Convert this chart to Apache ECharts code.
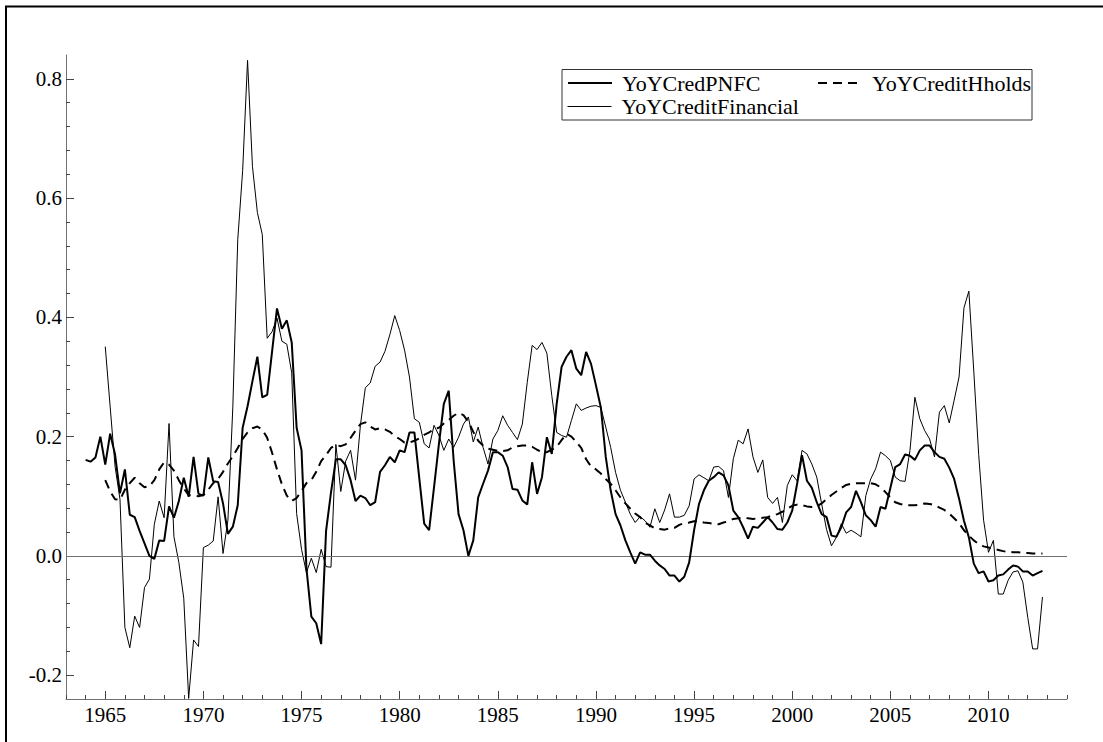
<!DOCTYPE html>
<html>
<head>
<meta charset="utf-8">
<script src="https://cdn.jsdelivr.net/npm/echarts@6/dist/echarts.min.js"></script>
<style>
  html, body { margin: 0; padding: 0; background: #fff; overflow: hidden; }
  #main { width: 1103px; height: 742px; }
</style>
</head>
<body>
<div id="main"></div>
<script>
// quarterly series, PNFC starts 1964Q1, the other two 1965Q1
var pnfcStart = 1964;
var otherStart = 1965;

var pnfc = [
  0.161, 0.158, 0.165, 0.200,  0.153, 0.205, 0.170, 0.105,  // 1964-65
  0.145, 0.069, 0.065, 0.042,  0.021, 0.000, -0.005, 0.026, // 1966-67
  0.025, 0.083, 0.064, 0.092,  0.131, 0.099, 0.166, 0.104,  // 1968-69
  0.101, 0.165, 0.125, 0.124,  0.088, 0.037, 0.049, 0.085,  // 1970-71
  0.215, 0.251, 0.293, 0.334,  0.266, 0.270, 0.343, 0.415,  // 1972-73
  0.381, 0.395, 0.358, 0.215,  0.177, -0.021, -0.102, -0.113, // 1974-75
  -0.148, 0.042, 0.106, 0.162, 0.162, 0.152, 0.127, 0.092,  // 1976-77
  0.101, 0.097, 0.085, 0.090,  0.141, 0.152, 0.166, 0.157,  // 1978-79
  0.177, 0.174, 0.207, 0.207,  0.130, 0.054, 0.043, 0.115,  // 1980-81
  0.188, 0.255, 0.277, 0.160,  0.070, 0.043, 0.000, 0.026,  // 1982-83
  0.098, 0.121, 0.143, 0.174,  0.174, 0.168, 0.149, 0.112,  // 1984-85
  0.111, 0.093, 0.086, 0.157,  0.104, 0.132, 0.199, 0.171,  // 1986-87
  0.255, 0.317, 0.334, 0.345,  0.314, 0.303, 0.342, 0.322,  // 1988-89
  0.286, 0.249, 0.166, 0.110,  0.070, 0.051, 0.026, 0.006,  // 1990-91
  -0.013, 0.006, 0.002, 0.002, -0.008, -0.016, -0.022, -0.033, // 1992-93
  -0.033, -0.043, -0.035, -0.011, 0.043, 0.087, 0.110, 0.126, // 1994-95
  0.132, 0.140, 0.135, 0.118,  0.076, 0.065, 0.048, 0.029,  // 1996-97
  0.049, 0.047, 0.056, 0.065,  0.056, 0.045, 0.044, 0.056,  // 1998-99
  0.076, 0.121, 0.169, 0.126,  0.114, 0.090, 0.070, 0.065,  // 2000-01
  0.034, 0.032, 0.048, 0.073,  0.082, 0.109, 0.090, 0.068,  // 2002-03
  0.060, 0.049, 0.082, 0.079,  0.114, 0.149, 0.154, 0.170,  // 2004-05
  0.168, 0.161, 0.177, 0.185,  0.185, 0.174, 0.166, 0.163,  // 2006-07
  0.148, 0.129, 0.096, 0.059,  0.031, -0.013, -0.029, -0.026, // 2008-09
  -0.043, -0.041, -0.033, -0.031, -0.023, -0.016, -0.018, -0.026, // 2010-11
  -0.026, -0.033, -0.029, -0.025                              // 2012
];

var hholds = [
  0.127, 0.108, 0.095, 0.094,  0.111, 0.122, 0.131, 0.122,  // 1965-66
  0.115, 0.117, 0.127, 0.145,  0.157, 0.153, 0.143, 0.127,  // 1967-68
  0.113, 0.102, 0.101, 0.100,  0.102, 0.111, 0.122, 0.129,  // 1969-70
  0.141, 0.155, 0.167, 0.181,  0.196, 0.207, 0.214, 0.217,  // 1971-72
  0.212, 0.198, 0.173, 0.145,  0.120, 0.101, 0.092, 0.097,  // 1973-74
  0.109, 0.122, 0.127, 0.141,  0.159, 0.169, 0.181, 0.186,  // 1975-76
  0.184, 0.187, 0.198, 0.210,  0.221, 0.224, 0.217, 0.212,  // 1977-78
  0.214, 0.212, 0.208, 0.201,  0.196, 0.190, 0.190, 0.193,  // 1979-80
  0.197, 0.203, 0.207, 0.213,  0.215, 0.222, 0.228, 0.235,  // 1981-82
  0.240, 0.236, 0.225, 0.208,  0.193, 0.185, 0.180, 0.178,  // 1983-84
  0.176, 0.176, 0.177, 0.182,  0.184, 0.185, 0.185, 0.183,  // 1985-86
  0.178, 0.174, 0.174, 0.178,  0.183, 0.194, 0.205, 0.200,  // 1987-88
  0.191, 0.181, 0.162, 0.150,  0.145, 0.138, 0.129, 0.121,  // 1989-90
  0.110, 0.098, 0.088, 0.079,  0.071, 0.065, 0.056, 0.051,  // 1991-92
  0.046, 0.045, 0.044, 0.046,  0.047, 0.052, 0.055, 0.056,  // 1993-94
  0.058, 0.058, 0.056, 0.055,  0.054, 0.053, 0.056, 0.058,  // 1995-96
  0.062, 0.063, 0.064, 0.063,  0.062, 0.063, 0.064, 0.065,  // 1997-98
  0.068, 0.070, 0.074, 0.079,  0.084, 0.086, 0.085, 0.083,  // 1999-2000
  0.082, 0.083, 0.088, 0.095,  0.102, 0.108, 0.114, 0.119,  // 2001-02
  0.121, 0.122, 0.122, 0.122,  0.122, 0.120, 0.115, 0.107,  // 2003-04
  0.098, 0.090, 0.087, 0.085,  0.085, 0.085, 0.086, 0.088,  // 2005-06
  0.087, 0.085, 0.081, 0.077,  0.071, 0.063, 0.055, 0.043,  // 2007-08
  0.034, 0.026, 0.020, 0.016,  0.014, 0.012, 0.010, 0.008,  // 2009-10
  0.007, 0.006, 0.006, 0.005,  0.005, 0.004, 0.004, 0.004   // 2011-12
];

var financial = [
  0.351, 0.250, 0.150, 0.095,  -0.120, -0.154, -0.101, -0.120, // 1965-66
  -0.053, -0.039, 0.053, 0.092, 0.064, 0.222, 0.032, -0.011,  // 1967-68
  -0.071, -0.239, -0.141, -0.152, 0.014, 0.018, 0.025, 0.099, // 1969-70
  0.004, 0.060, 0.250, 0.530,  0.646, 0.831, 0.653, 0.576,  // 1971-72
  0.539, 0.365, 0.376, 0.399,  0.360, 0.355, 0.307, 0.071,  // 1973-74
  0.011, -0.028, -0.004, -0.028, 0.011, -0.018, -0.019, 0.187, // 1975-76
  0.108, 0.159, 0.177, 0.127,  0.219, 0.282, 0.290, 0.318,  // 1977-78
  0.325, 0.343, 0.371, 0.403,  0.378, 0.345, 0.300, 0.230,  // 1979-80
  0.224, 0.188, 0.181, 0.219,  0.202, 0.177, 0.196, 0.182,  // 1981-82
  0.199, 0.221, 0.233, 0.191,  0.216, 0.182, 0.154, 0.196,  // 1983-84
  0.210, 0.235, 0.219, 0.207,  0.195, 0.221, 0.291, 0.353,  // 1985-86
  0.346, 0.358, 0.340, 0.269,  0.207, 0.202, 0.199, 0.227,  // 1987-88
  0.255, 0.244, 0.248, 0.251,  0.252, 0.249, 0.216, 0.182,  // 1989-90
  0.140, 0.110, 0.090, 0.070,  0.056, 0.066, 0.059, 0.048,  // 1991-92
  0.079, 0.056, 0.077, 0.104,  0.065, 0.065, 0.068, 0.084,  // 1993-94
  0.129, 0.136, 0.131, 0.126,  0.149, 0.150, 0.143, 0.098,  // 1995-96
  0.163, 0.194, 0.188, 0.213,  0.166, 0.140, 0.161, 0.098,  // 1997-98
  0.088, 0.098, 0.056, 0.118,  0.136, 0.126, 0.177, 0.171,  // 1999-2000
  0.154, 0.132, 0.087, 0.044,  0.017, 0.031, 0.054, 0.038,  // 2001-02
  0.043, 0.038, 0.032, 0.101,  0.129, 0.146, 0.174, 0.168,  // 2003-04
  0.160, 0.132, 0.126, 0.125,  0.177, 0.266, 0.230, 0.210,  // 2005-06
  0.196, 0.166, 0.241, 0.252,  0.223, 0.261, 0.300, 0.416,  // 2007-08
  0.444, 0.310, 0.170, 0.060,  0.006, 0.026, -0.064, -0.064, // 2009-10
  -0.041, -0.027, -0.025, -0.044, -0.103, -0.156, -0.156, -0.069 // 2011-12
];

// axis ticks / labels
var xLabels = [1965, 1970, 1975, 1980, 1985, 1990, 1995, 2000, 2005, 2010];
var xMinor = [];
for (var yr = 1963; yr <= 2014; yr++) xMinor.push(yr);
var yLabels = [-0.2, 0, 0.2, 0.4, 0.6, 0.8];
var yMinor = [-0.16, -0.12, -0.08, -0.04, 0.04, 0.08, 0.12, 0.16, 0.24, 0.28, 0.32, 0.36,
  0.44, 0.48, 0.52, 0.56, 0.64, 0.68, 0.72, 0.76];

var FONT = 'Liberation Serif';

// turn quarterly values into [year, value] pairs
function toPairs(start, vals) {
  var out = [];
  for (var i = 0; i < vals.length; i++) {
    out.push([start + i / 4, vals[i]]);
  }
  return out;
}

var chart = echarts.init(document.getElementById('main'), null, { renderer: 'svg' });

// one legend per entry so each can sit exactly where the reference has it
function legendAt(name, left, top, lineStyle) {
  return {
    data: [name],
    left: left,
    top: top,
    padding: 0,
    itemWidth: 44,
    itemHeight: 22,
    selectedMode: false,
    itemStyle: { opacity: 0 }, // hide the symbol, keep the line
    lineStyle: lineStyle,
    textStyle: {
      fontFamily: FONT,
      fontSize: 22,
      color: '#000',
      padding: [0, 0, 0, 5]
    }
  };
}

var option = {
  animation: false,
  backgroundColor: '#fff',
  grid: { left: 66, top: 55, right: 36, bottom: 43 },
  legend: [
    legendAt('YoYCredPNFC', 567, 72, { color: '#000', width: 2, type: 'solid' }),
    legendAt('YoYCreditHholds', 817, 72, { color: '#000', width: 2, type: [9, 6] }),
    legendAt('YoYCreditFinancial', 567, 95.5, { color: '#000', width: 1, type: 'solid' })
  ],
  xAxis: [{
    type: 'value',
    min: 1963,
    max: 2014,
    position: 'bottom',
    splitLine: { show: false },
    axisLine: { onZero: false, lineStyle: { color: '#707070', width: 1 } },
    axisTick: { inside: true, length: 8, customValues: xLabels, lineStyle: { color: '#444' } },
    axisLabel: {
      customValues: xLabels,
      margin: 5,
      color: '#000',
      fontFamily: FONT,
      fontSize: 21,
      formatter: function(v) { return String(v); }
    }
  }, {
    // minor year ticks
    type: 'value',
    min: 1963,
    max: 2014,
    position: 'bottom',
    splitLine: { show: false },
    axisLine: { show: false, onZero: false },
    axisTick: { inside: true, length: 4, customValues: xMinor, lineStyle: { color: '#444' } },
    axisLabel: { show: false }
  }],
  yAxis: [{
    type: 'value',
    min: -0.24,
    max: 0.84,
    position: 'left',
    splitLine: { show: false },
    axisLine: { show: true, onZero: false, lineStyle: { color: '#707070', width: 1 } },
    axisTick: { show: true, inside: true, length: 8, customValues: yLabels, lineStyle: { color: '#444' } },
    axisLabel: {
      customValues: yLabels,
      margin: 4,
      color: '#000',
      fontFamily: FONT,
      fontSize: 21,
      formatter: function(v) { return v.toFixed(1); }
    }
  }, {
    type: 'value',
    min: -0.24,
    max: 0.84,
    position: 'left',
    splitLine: { show: false },
    axisLine: { show: false, onZero: false },
    axisTick: { show: true, inside: true, length: 4, customValues: yMinor, lineStyle: { color: '#444' } },
    axisLabel: { show: false }
  }],
  series: [{
    name: 'YoYCreditFinancial',
    type: 'line',
    data: toPairs(otherStart, financial),
    symbol: 'none',
    lineStyle: { color: '#000', width: 1 },
    itemStyle: { color: '#000' },
    z: 3
  }, {
    name: 'YoYCreditHholds',
    type: 'line',
    data: toPairs(otherStart, hholds),
    symbol: 'none',
    lineStyle: { color: '#000', width: 2, type: [9, 6] },
    itemStyle: { color: '#000' },
    z: 4
  }, {
    name: 'YoYCredPNFC',
    type: 'line',
    data: toPairs(pnfcStart, pnfc),
    symbol: 'none',
    lineStyle: { color: '#000', width: 2 },
    itemStyle: { color: '#000' },
    z: 5,
    markLine: {
      silent: true,
      symbol: 'none',
      label: { show: false },
      lineStyle: { color: '#707070', width: 1, type: 'solid' },
      data: [{ yAxis: 0 }]
    }
  }],
  graphic: [{
    // outer frame: only the top and left edges fall inside the picture
    type: 'polyline',
    shape: { points: [[6, 742], [6, 6.5], [1103, 6.5]] },
    style: { fill: 'none', stroke: '#000', lineWidth: 2 },
    silent: true
  }, {
    // legend box
    type: 'rect',
    shape: { x: 562, y: 69.5, width: 470, height: 50.5 },
    style: { fill: 'none', stroke: '#333', lineWidth: 1 },
    silent: true
  }]
};

chart.setOption(option);
</script>
</body>
</html>
